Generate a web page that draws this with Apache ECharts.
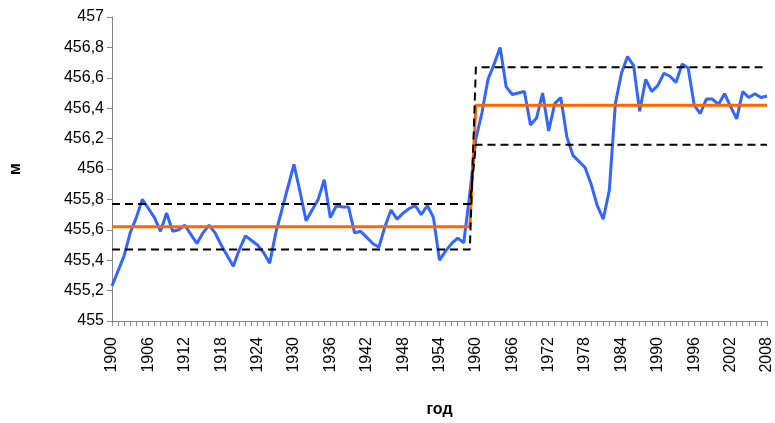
<!DOCTYPE html>
<html>
<head>
<meta charset="utf-8">
<script src="https://cdn.jsdelivr.net/npm/echarts@6/dist/echarts.min.js"></script>
<style>
  html, body { margin: 0; padding: 0; background: #fff; }
  #chart { width: 775px; height: 423px; }
</style>
</head>
<body>
<div id="chart"></div>
<script>
// Годы наблюдений
const startYear = 1900;
const endYear = 2008;
const years = [];
for (let y = startYear; y <= endYear; y++) years.push(String(y));

// Уровень воды, м (ежегодные значения)
const level = [
  455.23, 455.33, 455.43, 455.58, 455.68, 455.80, 455.74, 455.68, 455.59, 455.71,
  455.59, 455.60, 455.63, 455.57, 455.51, 455.58, 455.63, 455.58, 455.50, 455.43,
  455.36, 455.47, 455.56, 455.53, 455.50, 455.45, 455.38, 455.58, 455.73, 455.88,
  456.03, 455.85, 455.66, 455.73, 455.80, 455.93, 455.68, 455.76, 455.75, 455.75,
  455.58, 455.59, 455.55, 455.51, 455.485, 455.62, 455.73, 455.67, 455.71, 455.74,
  455.76, 455.70, 455.76, 455.68, 455.40, 455.46, 455.51, 455.545, 455.515, 455.84,
  456.20, 456.37, 456.59, 456.69, 456.80, 456.54, 456.49, 456.50, 456.51, 456.29,
  456.335, 456.50, 456.25, 456.43, 456.47, 456.21, 456.09, 456.05, 456.01, 455.90,
  455.76, 455.67, 455.86, 456.43, 456.63, 456.74, 456.68, 456.38, 456.59, 456.51,
  456.55, 456.63, 456.61, 456.57, 456.69, 456.665, 456.42, 456.365, 456.46, 456.46,
  456.425, 456.495, 456.41, 456.33, 456.51, 456.47, 456.495, 456.47, 456.48
];

// Средние по периодам и границы интервалов
const splitYear = 1960;
const mean1 = 455.62, mean2 = 456.42;
const bandA1 = 455.77, bandA2 = 456.16;
const bandB1 = 455.47, bandB2 = 456.67;
const meanLine = years.map(y => (+y < splitYear ? mean1 : mean2));
const bandALine = years.map(y => (+y < splitYear ? bandA1 : bandA2));
const bandBLine = years.map(y => (+y < splitYear ? bandB1 : bandB2));

// Деления оси уровня
const yMin = 455, yMax = 457, yStep = 0.2;
const fontFamily = '"Liberation Sans", Arial, sans-serif';
const axisGray = '#868686';

const chart = echarts.init(document.getElementById('chart'), null, { renderer: 'canvas' });
chart.setOption({
  animation: false,
  backgroundColor: '#fff',
  grid: { left: 107, right: 6, top: 17, bottom: 94, containLabel: false },
  xAxis: {
    type: 'category', data: years, boundaryGap: false,
    name: 'год', nameLocation: 'middle', nameGap: 81,
    nameTextStyle: { fontFamily, fontSize: 16, fontWeight: 'bold', color: '#000' },
    axisLine: { show: true, lineStyle: { color: axisGray, width: 1 } },
    axisTick: { show: true, interval: 0, length: 5, lineStyle: { color: axisGray } },
    axisLabel: { interval: 5, rotate: 90, margin: 16, fontFamily, fontSize: 16, color: '#000' },
    splitLine: { show: false }
  },
  yAxis: {
    type: 'value', min: yMin, max: yMax, interval: yStep,
    name: 'м', nameLocation: 'middle', nameRotate: 90, nameGap: 88,
    nameTextStyle: { fontFamily, fontSize: 16, fontWeight: 'bold', color: '#000' },
    axisLine: { show: true, lineStyle: { color: axisGray, width: 1 } },
    axisTick: { show: true, length: 5, lineStyle: { color: axisGray } },
    axisLabel: { margin: 8, fontFamily, fontSize: 16, color: '#000',
      formatter: v => String(+v.toFixed(1)).replace('.', ',') },
    splitLine: { show: false }
  },
  series: [
    { type: 'line', data: level, symbol: 'none', lineStyle: { color: '#3366ff', width: 3 }, z: 2 },
    { type: 'line', data: meanLine, symbol: 'none', lineStyle: { color: '#ff6600', width: 3 }, z: 3 },
    { type: 'line', data: bandALine, symbol: 'none', lineStyle: { color: '#000', width: 2, type: [8, 5] }, z: 4 },
    { type: 'line', data: bandBLine, symbol: 'none', lineStyle: { color: '#000', width: 2, type: [8, 5] }, z: 4 }
  ]
});
</script>
</body>
</html>
